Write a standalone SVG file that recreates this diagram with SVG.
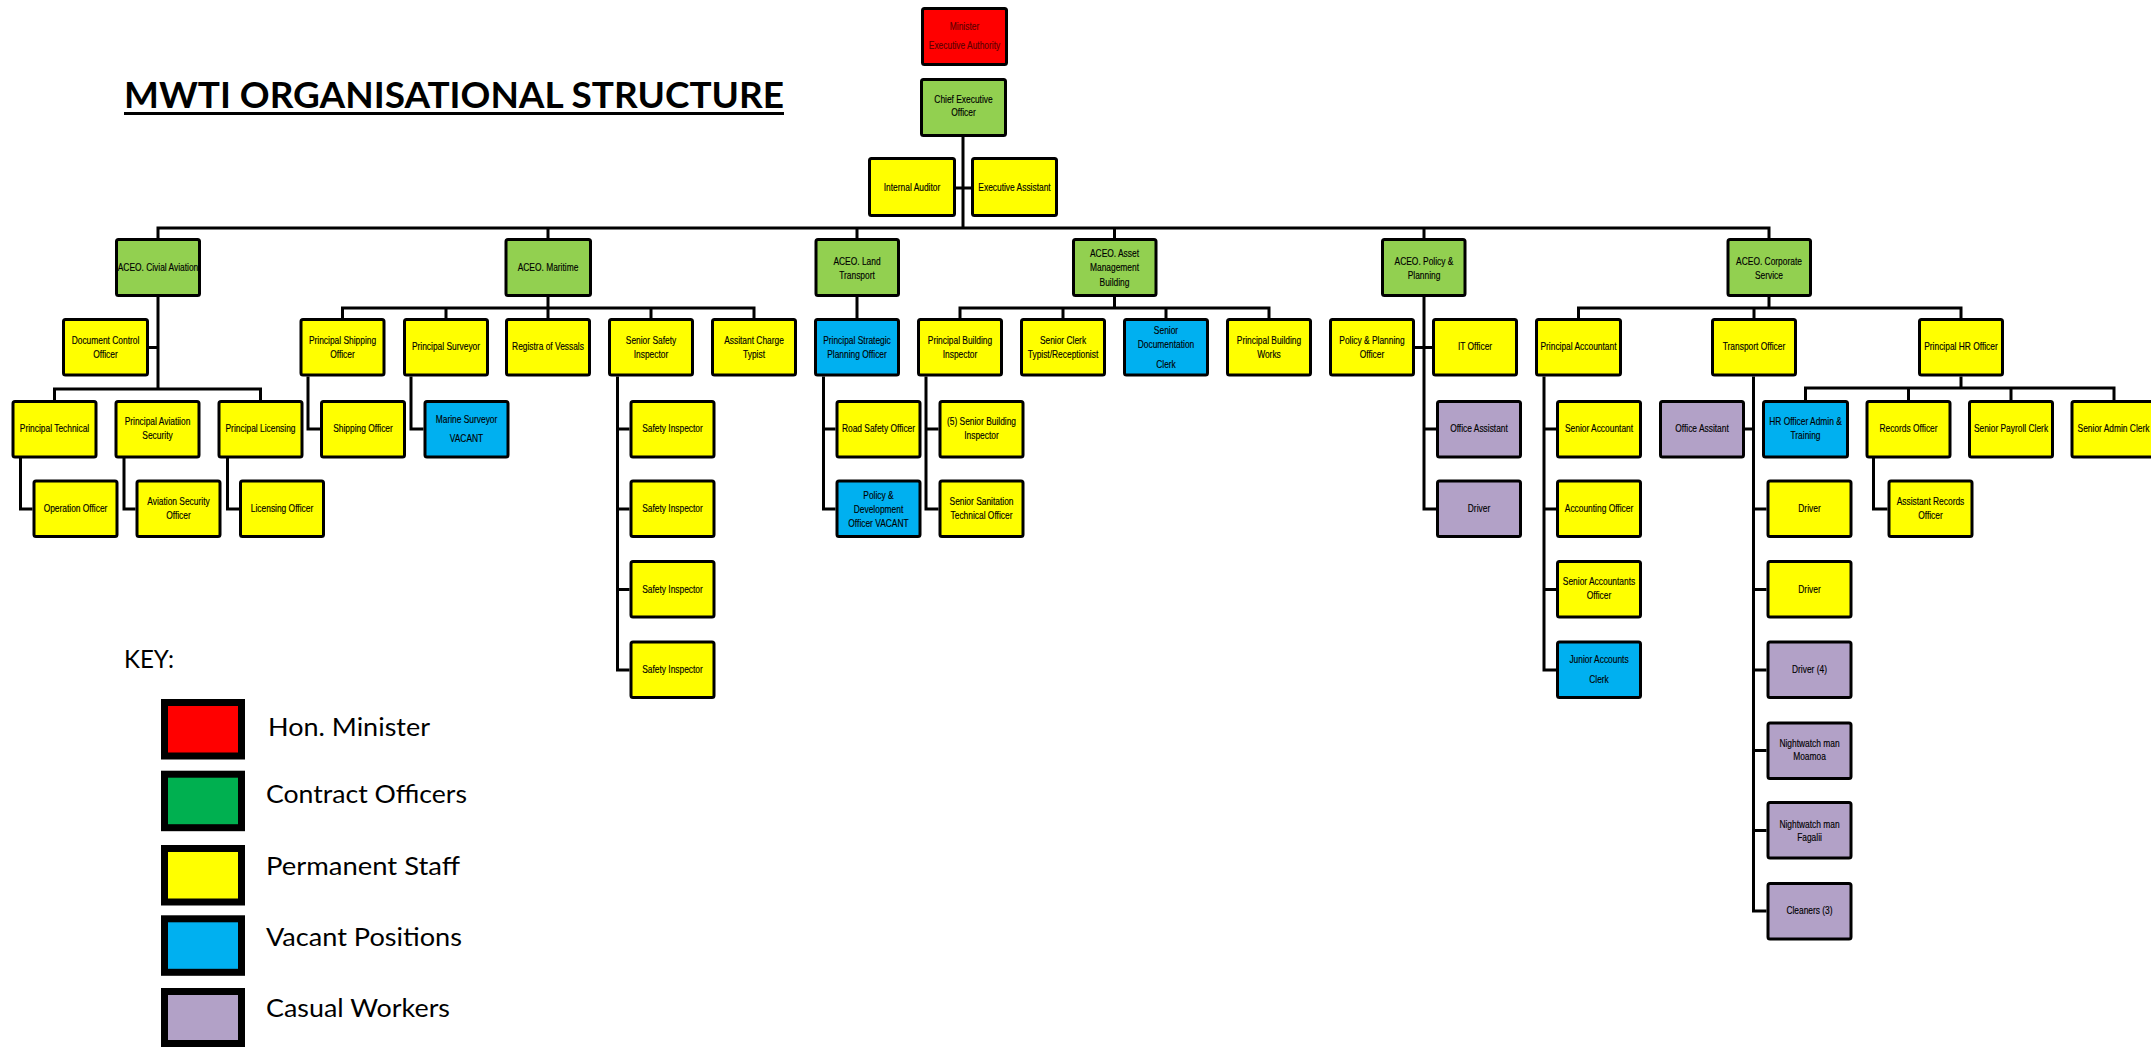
<svg xmlns="http://www.w3.org/2000/svg" width="2151" height="1047" viewBox="0 0 2151 1047">
<style>
.bg{fill:#fff}
rect.n{stroke:#000;stroke-width:3;rx:2}
.r{fill:#ff0000}.g{fill:#92d050}.y{fill:#ffff00}.b{fill:#00b0f0}.p{fill:#b2a1c7}
text.t{font-family:"Liberation Sans",Arial,sans-serif;font-size:10.5px;text-anchor:middle;fill:#000;stroke:#000;stroke-width:0.15}
text.m{fill:#5a0000;stroke:#5a0000}
.c{fill:none;stroke:#000;stroke-width:3;stroke-linejoin:miter}
.k{stroke:#000;stroke-width:7}
.kt{font-family:Lato,"Liberation Sans",sans-serif;font-size:25px;fill:#000}
.ttl{font-family:Lato,"Liberation Sans",sans-serif;font-size:36px;font-weight:bold;fill:#000}
</style>
<rect class="bg" x="0" y="0" width="2151" height="1047"/>
<g id="title">
<text class="ttl" x="124" y="108" textLength="660" lengthAdjust="spacingAndGlyphs">MWTI ORGANISATIONAL STRUCTURE</text>
<line x1="124" y1="113.5" x2="784" y2="113.5" stroke="#000" stroke-width="3"/>
</g>
<g id="connectors">
<path class="c" d="M963 137V228M956 188H971"/>
<path class="c" d="M158 238V228H1769V238M548 228V238M857 228V238M1114.5 228V238M1424 228V238"/>
<path class="c" d="M158 297V389M149 347.5H158M54.5 400V389H260.5V400M20.5 458V509H32.5M124 458V509H135.5M227.5 458V509H239"/>
<path class="c" d="M548 297V318M342.5 318V308H754V318M446 308V318M651 308V318M308 376.5V429H320M411 376.5V429H423.5"/>
<path class="c" d="M617.5 376.5V670H629.5M617.5 429H629.5M617.5 509H629.5M617.5 589.5H629.5"/>
<path class="c" d="M857 297V318M823.5 376.5V509H835.5M823.5 429H835.5"/>
<path class="c" d="M1114.5 297V308M960 318V308H1269V318M1063 308V318M1166 308V318M926 376.5V509H938.5M926 429H938.5"/>
<path class="c" d="M1424 297V509H1436M1415 347.5H1432M1424 429H1436"/>
<path class="c" d="M1769 297V308M1578.5 318V308H1961V318M1754 308V318"/>
<path class="c" d="M1544 376.5V670H1556M1544 429H1556M1544 509H1556M1544 589.5H1556"/>
<path class="c" d="M1753.5 376.5V911H1766.5M1745 429H1753.5M1753.5 509H1766.5M1753.5 589.5H1766.5M1753.5 670H1766.5M1753.5 750.5H1766.5M1753.5 830.5H1766.5"/>
<path class="c" d="M1961 376.5V388M1805.5 400V388H2114V400M1908.5 388V400M2011 388V400M1873.5 458V509H1887.5"/>
</g>
<g id="minister"><rect class="n r" x="922.5" y="8.5" width="84" height="56"/><text class="t m" transform="translate(964.5 0) scale(0.8 1)"><tspan x="0" y="30.5">Minister</tspan><tspan x="0" y="49.5">Executive  Authority</tspan></text></g>
<g id="ceo"><rect class="n g" x="921.5" y="79.5" width="84" height="56"/><text class="t" transform="translate(963.5 0) scale(0.8 1)"><tspan x="0" y="103.5">Chief Executive</tspan><tspan x="0" y="116.5">Officer</tspan></text></g>
<g id="internal-auditor"><rect class="n y" x="869.5" y="158.5" width="85" height="57"/><text class="t" transform="translate(912 0) scale(0.8 1)" x="0" y="191.5">Internal Auditor</text></g>
<g id="executive-assistant"><rect class="n y" x="972.5" y="158.5" width="84" height="57"/><text class="t" transform="translate(1014.5 0) scale(0.8 1)" x="0" y="191.5">Executive  Assistant</text></g>
<g id="aceo-civil"><rect class="n g" x="116.5" y="239.5" width="83" height="56"/><text class="t" transform="translate(158 0) scale(0.8 1)" x="0" y="271.5">ACEO. Civial Aviation</text></g>
<g id="aceo-maritime"><rect class="n g" x="506" y="239.5" width="84.5" height="56"/><text class="t" transform="translate(548 0) scale(0.8 1)" x="0" y="271.5">ACEO. Maritime</text></g>
<g id="aceo-land"><rect class="n g" x="816" y="239.5" width="82.5" height="56"/><text class="t" transform="translate(857 0) scale(0.8 1)"><tspan x="0" y="265.5">ACEO. Land</tspan><tspan x="0" y="279.5">Transport</tspan></text></g>
<g id="aceo-asset"><rect class="n g" x="1073.5" y="239.5" width="82.5" height="56"/><text class="t" transform="translate(1114.5 0) scale(0.8 1)"><tspan x="0" y="257.5">ACEO. Asset</tspan><tspan x="0" y="271.5">Management</tspan><tspan x="0" y="286.5">Building</tspan></text></g>
<g id="aceo-policy"><rect class="n g" x="1382.5" y="239.5" width="82.5" height="56"/><text class="t" transform="translate(1424 0) scale(0.8 1)"><tspan x="0" y="265.5">ACEO. Policy  &amp;</tspan><tspan x="0" y="279.5">Planning</tspan></text></g>
<g id="aceo-corporate"><rect class="n g" x="1728" y="239.5" width="82.5" height="56"/><text class="t" transform="translate(1769 0) scale(0.8 1)"><tspan x="0" y="265.5">ACEO. Corporate</tspan><tspan x="0" y="279.5">Service</tspan></text></g>
<g id="document-control"><rect class="n y" x="63.5" y="319.5" width="84" height="55.5"/><text class="t" transform="translate(105.5 0) scale(0.8 1)"><tspan x="0" y="344">Document  Control</tspan><tspan x="0" y="358">Officer</tspan></text></g>
<g id="principal-shipping"><rect class="n y" x="301" y="319.5" width="83" height="55.5"/><text class="t" transform="translate(342.5 0) scale(0.8 1)"><tspan x="0" y="344">Principal Shipping</tspan><tspan x="0" y="358">Officer</tspan></text></g>
<g id="principal-surveyor"><rect class="n y" x="404.5" y="319.5" width="83" height="55.5"/><text class="t" transform="translate(446 0) scale(0.8 1)" x="0" y="350.5">Principal Surveyor</text></g>
<g id="registra"><rect class="n y" x="506.5" y="319.5" width="83" height="55.5"/><text class="t" transform="translate(548 0) scale(0.8 1)" x="0" y="350.5">Registra of Vessals</text></g>
<g id="senior-safety"><rect class="n y" x="609.5" y="319.5" width="83" height="55.5"/><text class="t" transform="translate(651 0) scale(0.8 1)"><tspan x="0" y="344">Senior Safety</tspan><tspan x="0" y="358">Inspector</tspan></text></g>
<g id="assistant-charge"><rect class="n y" x="712.5" y="319.5" width="83" height="55.5"/><text class="t" transform="translate(754 0) scale(0.8 1)"><tspan x="0" y="344">Assitant Charge</tspan><tspan x="0" y="358">Typist</tspan></text></g>
<g id="strategic-planning"><rect class="n b" x="815.5" y="319.5" width="83" height="55.5"/><text class="t" transform="translate(857 0) scale(0.8 1)"><tspan x="0" y="344">Principal Strategic</tspan><tspan x="0" y="358">Planning Officer</tspan></text></g>
<g id="principal-building-inspector"><rect class="n y" x="918.5" y="319.5" width="83" height="55.5"/><text class="t" transform="translate(960 0) scale(0.8 1)"><tspan x="0" y="344">Principal Building</tspan><tspan x="0" y="358">Inspector</tspan></text></g>
<g id="senior-clerk"><rect class="n y" x="1021.5" y="319.5" width="83" height="55.5"/><text class="t" transform="translate(1063 0) scale(0.8 1)"><tspan x="0" y="344">Senior Clerk</tspan><tspan x="0" y="358">Typist/Receptionist</tspan></text></g>
<g id="senior-documentation"><rect class="n b" x="1124.5" y="319.5" width="83" height="55.5"/><text class="t" transform="translate(1166 0) scale(0.8 1)"><tspan x="0" y="334.5">Senior</tspan><tspan x="0" y="348.5">Documentation</tspan><tspan x="0" y="368">Clerk</tspan></text></g>
<g id="principal-building-works"><rect class="n y" x="1227.5" y="319.5" width="83" height="55.5"/><text class="t" transform="translate(1269 0) scale(0.8 1)"><tspan x="0" y="344">Principal Building</tspan><tspan x="0" y="358">Works</tspan></text></g>
<g id="policy-planning-officer"><rect class="n y" x="1330.5" y="319.5" width="83" height="55.5"/><text class="t" transform="translate(1372 0) scale(0.8 1)"><tspan x="0" y="344">Policy  &amp;  Planning</tspan><tspan x="0" y="358">Officer</tspan></text></g>
<g id="it-officer"><rect class="n y" x="1433.5" y="319.5" width="83" height="55.5"/><text class="t" transform="translate(1475 0) scale(0.8 1)" x="0" y="350.5">IT Officer</text></g>
<g id="principal-accountant"><rect class="n y" x="1536.5" y="319.5" width="84" height="55.5"/><text class="t" transform="translate(1578.5 0) scale(0.8 1)" x="0" y="350.5">Principal Accountant</text></g>
<g id="transport-officer"><rect class="n y" x="1712.5" y="319.5" width="83" height="55.5"/><text class="t" transform="translate(1754 0) scale(0.8 1)" x="0" y="350.5">Transport Officer</text></g>
<g id="principal-hr"><rect class="n y" x="1919.5" y="319.5" width="83" height="55.5"/><text class="t" transform="translate(1961 0) scale(0.8 1)" x="0" y="350.5">Principal HR Officer</text></g>
<g id="principal-technical"><rect class="n y" x="13" y="401.5" width="83" height="55.5"/><text class="t" transform="translate(54.5 0) scale(0.8 1)" x="0" y="432.5">Principal  Technical</text></g>
<g id="principal-aviation-security"><rect class="n y" x="116" y="401.5" width="83" height="55.5"/><text class="t" transform="translate(157.5 0) scale(0.8 1)"><tspan x="0" y="425">Principal Aviatiion</tspan><tspan x="0" y="439">Security</tspan></text></g>
<g id="principal-licensing"><rect class="n y" x="219" y="401.5" width="83" height="55.5"/><text class="t" transform="translate(260.5 0) scale(0.8 1)" x="0" y="432.5">Principal Licensing</text></g>
<g id="shipping-officer"><rect class="n y" x="321.5" y="401.5" width="83" height="55.5"/><text class="t" transform="translate(363 0) scale(0.8 1)" x="0" y="432.5">Shipping  Officer</text></g>
<g id="marine-surveyor"><rect class="n b" x="425" y="401.5" width="83" height="55.5"/><text class="t" transform="translate(466.5 0) scale(0.8 1)"><tspan x="0" y="423">Marine Surveyor</tspan><tspan x="0" y="442.5">VACANT</tspan></text></g>
<g id="safety-inspector-1"><rect class="n y" x="631" y="401.5" width="83" height="55.5"/><text class="t" transform="translate(672.5 0) scale(0.8 1)" x="0" y="432.5">Safety Inspector</text></g>
<g id="road-safety"><rect class="n y" x="837" y="401.5" width="83" height="55.5"/><text class="t" transform="translate(878.5 0) scale(0.8 1)" x="0" y="432.5">Road Safety Officer</text></g>
<g id="senior-building-inspector"><rect class="n y" x="940" y="401.5" width="83" height="55.5"/><text class="t" transform="translate(981.5 0) scale(0.8 1)"><tspan x="0" y="425">(5) Senior Building</tspan><tspan x="0" y="439">Inspector</tspan></text></g>
<g id="office-assistant-policy"><rect class="n p" x="1437.5" y="401.5" width="83" height="55.5"/><text class="t" transform="translate(1479 0) scale(0.8 1)" x="0" y="432.5">Office Assistant</text></g>
<g id="senior-accountant"><rect class="n y" x="1557.5" y="401.5" width="83" height="55.5"/><text class="t" transform="translate(1599 0) scale(0.8 1)" x="0" y="432.5">Senior Accountant</text></g>
<g id="office-assistant-transport"><rect class="n p" x="1660.5" y="401.5" width="83" height="55.5"/><text class="t" transform="translate(1702 0) scale(0.8 1)" x="0" y="432.5">Office Assitant</text></g>
<g id="hr-officer"><rect class="n b" x="1763.5" y="401.5" width="84" height="55.5"/><text class="t" transform="translate(1805.5 0) scale(0.8 1)"><tspan x="0" y="425">HR Officer  Admin  &amp;</tspan><tspan x="0" y="439">Training</tspan></text></g>
<g id="records-officer"><rect class="n y" x="1867" y="401.5" width="83" height="55.5"/><text class="t" transform="translate(1908.5 0) scale(0.8 1)" x="0" y="432.5">Records Officer</text></g>
<g id="senior-payroll"><rect class="n y" x="1969.5" y="401.5" width="83" height="55.5"/><text class="t" transform="translate(2011 0) scale(0.8 1)" x="0" y="432.5">Senior Payroll Clerk</text></g>
<g id="senior-admin"><rect class="n y" x="2072" y="401.5" width="83" height="55.5"/><text class="t" transform="translate(2113.5 0) scale(0.8 1)" x="0" y="432.5">Senior Admin Clerk</text></g>
<g id="operation-officer"><rect class="n y" x="34" y="481" width="83" height="55.5"/><text class="t" transform="translate(75.5 0) scale(0.8 1)" x="0" y="512.5">Operation Officer</text></g>
<g id="aviation-security-officer"><rect class="n y" x="137" y="481" width="83" height="55.5"/><text class="t" transform="translate(178.5 0) scale(0.8 1)"><tspan x="0" y="505.5">Aviation Security</tspan><tspan x="0" y="519.5">Officer</tspan></text></g>
<g id="licensing-officer"><rect class="n y" x="240.5" y="481" width="83" height="55.5"/><text class="t" transform="translate(282 0) scale(0.8 1)" x="0" y="512.5">Licensing  Officer</text></g>
<g id="safety-inspector-2"><rect class="n y" x="631" y="481" width="83" height="55.5"/><text class="t" transform="translate(672.5 0) scale(0.8 1)" x="0" y="512.5">Safety Inspector</text></g>
<g id="policy-development"><rect class="n b" x="837" y="481" width="83" height="55.5"/><text class="t" transform="translate(878.5 0) scale(0.8 1)"><tspan x="0" y="499">Policy  &amp;</tspan><tspan x="0" y="513">Development</tspan><tspan x="0" y="527">Officer VACANT</tspan></text></g>
<g id="senior-sanitation"><rect class="n y" x="940" y="481" width="83" height="55.5"/><text class="t" transform="translate(981.5 0) scale(0.8 1)"><tspan x="0" y="505.5">Senior Sanitation</tspan><tspan x="0" y="519.5">Technical Officer</tspan></text></g>
<g id="driver-policy"><rect class="n p" x="1437.5" y="481" width="83" height="55.5"/><text class="t" transform="translate(1479 0) scale(0.8 1)" x="0" y="512.5">Driver</text></g>
<g id="accounting-officer"><rect class="n y" x="1557.5" y="481" width="83" height="55.5"/><text class="t" transform="translate(1599 0) scale(0.8 1)" x="0" y="512.5">Accounting  Officer</text></g>
<g id="driver-1"><rect class="n y" x="1768" y="481" width="83" height="55.5"/><text class="t" transform="translate(1809.5 0) scale(0.8 1)" x="0" y="512.5">Driver</text></g>
<g id="assistant-records"><rect class="n y" x="1889" y="481" width="83" height="55.5"/><text class="t" transform="translate(1930.5 0) scale(0.8 1)"><tspan x="0" y="505.5">Assistant Records</tspan><tspan x="0" y="519.5">Officer</tspan></text></g>
<g id="safety-inspector-3"><rect class="n y" x="631" y="561.5" width="83" height="55.5"/><text class="t" transform="translate(672.5 0) scale(0.8 1)" x="0" y="593">Safety Inspector</text></g>
<g id="senior-accountants-officer"><rect class="n y" x="1557.5" y="561.5" width="83" height="55.5"/><text class="t" transform="translate(1599 0) scale(0.8 1)"><tspan x="0" y="585.5">Senior Accountants</tspan><tspan x="0" y="599.5">Officer</tspan></text></g>
<g id="driver-2"><rect class="n y" x="1768" y="561.5" width="83" height="55.5"/><text class="t" transform="translate(1809.5 0) scale(0.8 1)" x="0" y="593">Driver</text></g>
<g id="safety-inspector-4"><rect class="n y" x="631" y="642" width="83" height="55.5"/><text class="t" transform="translate(672.5 0) scale(0.8 1)" x="0" y="673">Safety Inspector</text></g>
<g id="junior-accounts"><rect class="n b" x="1557.5" y="642" width="83" height="55.5"/><text class="t" transform="translate(1599 0) scale(0.8 1)"><tspan x="0" y="663.5">Junior Accounts</tspan><tspan x="0" y="683.5">Clerk</tspan></text></g>
<g id="driver-4"><rect class="n p" x="1768" y="642" width="83" height="55.5"/><text class="t" transform="translate(1809.5 0) scale(0.8 1)" x="0" y="673">Driver (4)</text></g>
<g id="nightwatch-moamoa"><rect class="n p" x="1768" y="723" width="83" height="55.5"/><text class="t" transform="translate(1809.5 0) scale(0.8 1)"><tspan x="0" y="747">Nightwatch  man</tspan><tspan x="0" y="760.5">Moamoa</tspan></text></g>
<g id="nightwatch-fagalii"><rect class="n p" x="1768" y="802.5" width="83" height="55.5"/><text class="t" transform="translate(1809.5 0) scale(0.8 1)"><tspan x="0" y="828">Nightwatch  man</tspan><tspan x="0" y="841.5">Fagalii</tspan></text></g>
<g id="cleaners"><rect class="n p" x="1768" y="883.5" width="83" height="55.5"/><text class="t" transform="translate(1809.5 0) scale(0.8 1)" x="0" y="914.5">Cleaners  (3)</text></g>
<g id="key">
<text class="kt" x="124" y="667.7" textLength="50" lengthAdjust="spacingAndGlyphs">KEY:</text>
<rect class="k r" x="164.5" y="702.5" width="77" height="53.5"/>
<rect class="k" fill="#00b050" x="164.5" y="774.2" width="77" height="53.5"/>
<rect class="k y" x="164.5" y="848.5" width="77" height="53.5"/>
<rect class="k b" x="164.5" y="918.8" width="77" height="53.5"/>
<rect class="k p" x="164.5" y="991.5" width="77" height="52"/>
<text class="kt" x="268" y="736" textLength="162" lengthAdjust="spacingAndGlyphs">Hon. Minister</text>
<text class="kt" x="266" y="802.7" textLength="201" lengthAdjust="spacingAndGlyphs">Contract Officers</text>
<text class="kt" x="266" y="875" textLength="194" lengthAdjust="spacingAndGlyphs">Permanent Staff</text>
<text class="kt" x="266" y="945.7" textLength="196" lengthAdjust="spacingAndGlyphs">Vacant Positions</text>
<text class="kt" x="266" y="1017.3" textLength="184" lengthAdjust="spacingAndGlyphs">Casual Workers</text>
</g>
</svg>
